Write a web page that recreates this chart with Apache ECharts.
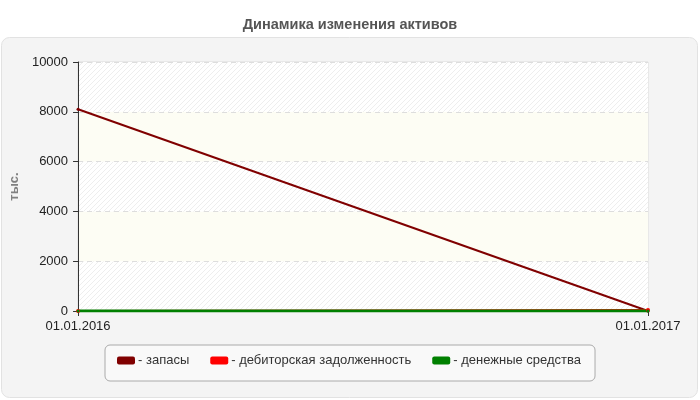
<!DOCTYPE html>
<html>
<head>
<meta charset="utf-8">
<script src="https://cdn.jsdelivr.net/npm/echarts@6/dist/echarts.min.js"></script>
<style>
html,body{margin:0;padding:0;background:#fff;}
#main{width:700px;height:400px;}
</style>
</head>
<body>
<div id="main"></div>
<script>
// данные графика
var dates = ['01.01.2016', '01.01.2017'];
var seriesNames = ['- запасы', '- дебиторская задолженность', '- денежные средства'];
var zapasy = [8100, 0];
var debitorka = [0, 40];
var dengi = [0, 0];

// штриховка фона
function makeHatch(){
	var c = document.createElement('canvas');
	c.width = 5; c.height = 5;
	var ctx = c.getContext('2d');
	ctx.fillStyle = '#ffffff';
	ctx.fillRect(0, 0, 5, 5);
	ctx.strokeStyle = '#eeeeee';
	ctx.lineWidth = 1;
	ctx.beginPath();
	ctx.moveTo(0, 5); ctx.lineTo(5, 0);
	ctx.moveTo(-1, 1); ctx.lineTo(1, -1);
	ctx.moveTo(4, 6); ctx.lineTo(6, 4);
	ctx.stroke();
	return c;
}

var myChart = echarts.init(document.getElementById('main'));
var option = {
	animation: false,
	textStyle: {fontFamily: 'Liberation Sans, Arial, sans-serif'},
	title: {
		text: 'Динамика изменения активов',
		left: 'center',
		top: 12,
		textStyle: {fontSize: 14.5, fontWeight: 'bold', color: '#555'}
	},
	graphic: [{
		type: 'rect',
		z: -10,
		shape: {x: 1.5, y: 37.5, width: 696, height: 360, r: 8},
		style: {fill: '#f4f4f4', stroke: '#e2e2e2', lineWidth: 1}
	}],
	grid: {
		left: 78, right: 52, top: 62, bottom: 89,
		show: true,
		backgroundColor: '#fff',
		borderColor: '#dcdcdc',
		borderWidth: 1
	},
	legend: {
		left: 105,
		top: 345,
		width: 488,
		padding: [9, 14, 14, 12],
		itemGap: 21,
		itemWidth: 18,
		itemHeight: 8,
		icon: 'roundRect',
		borderColor: '#aaa',
		borderWidth: 1,
		borderRadius: 5,
		backgroundColor: '#f9f9f9',
		textStyle: {fontSize: 13, color: '#333', padding: [0, 0, 0, -2]},
		data: seriesNames
	},
	xAxis: {
		type: 'category',
		data: dates,
		boundaryGap: false,
		axisLine: {lineStyle: {color: '#333', width: 1}},
		axisTick: {show: true, length: 5, inside: false, lineStyle: {color: '#333'}},
		axisLabel: {fontSize: 13, color: '#222', margin: 9}
	},
	yAxis: {
		type: 'value',
		min: 0,
		max: 10000,
		interval: 2000,
		name: 'тыс.',
		nameLocation: 'middle',
		nameGap: 48,
		nameTextStyle: {fontSize: 13, fontWeight: 'bold', color: '#808080'},
		axisLine: {show: true, lineStyle: {color: '#333', width: 1}},
		axisTick: {show: true, length: 5, lineStyle: {color: '#333'}},
		axisLabel: {fontSize: 13, color: '#222', margin: 10, formatter: function(v){ return String(v); }},
		splitLine: {show: true, lineStyle: {color: '#ddd', type: [5, 4]}},
		splitArea: {show: true, areaStyle: {color: [
			{image: makeHatch(), repeat: 'repeat'},
			'#fdfdf4'
		]}}
	},
	series: [{
		name: seriesNames[0],
		type: 'line',
		data: zapasy,
		color: '#800000',
		lineStyle: {width: 2},
		symbol: 'circle',
		symbolSize: 3
	}, {
		name: seriesNames[1],
		type: 'line',
		data: debitorka,
		color: '#ff0000',
		lineStyle: {width: 2},
		symbol: 'circle',
		symbolSize: 4
	}, {
		name: seriesNames[2],
		type: 'line',
		data: dengi,
		color: '#008000',
		lineStyle: {width: 3},
		symbol: 'circle',
		symbolSize: 3
	}]
};
myChart.setOption(option);
</script>
</body>
</html>
